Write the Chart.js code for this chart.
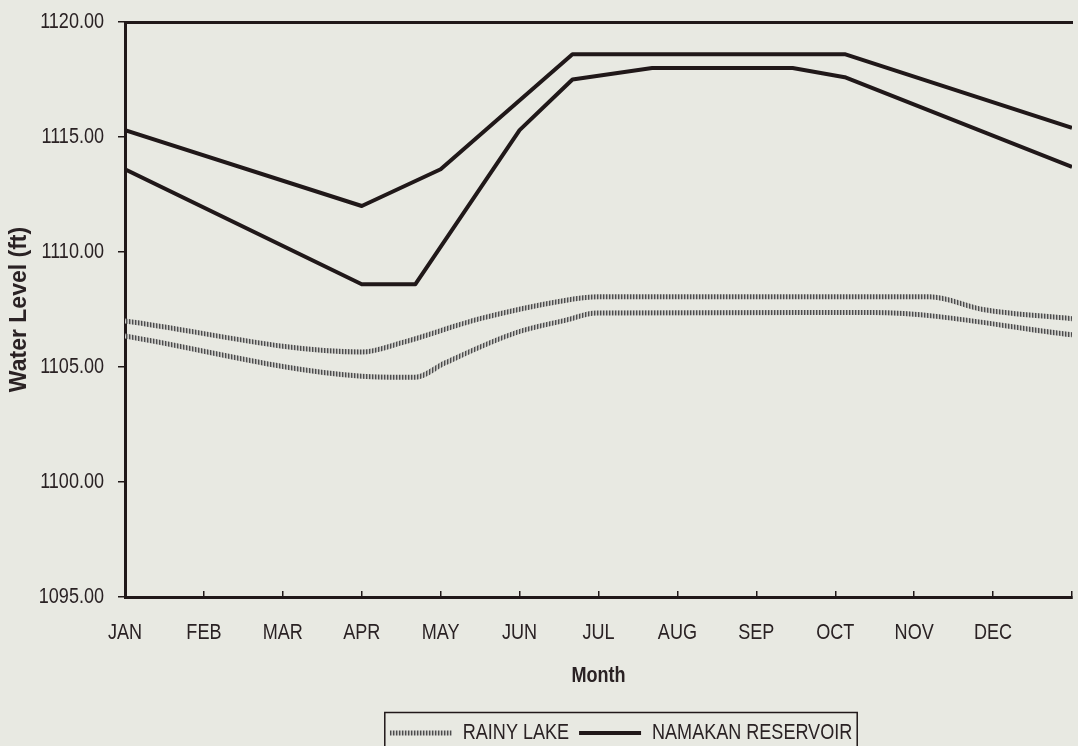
<!DOCTYPE html>
<html>
<head>
<meta charset="utf-8">
<script src="https://cdn.jsdelivr.net/npm/chart.js@4.4.1/dist/chart.umd.min.js"></script>
<style>
  html, body { margin: 0; padding: 0; background: #e8e9e2; }
  #wrap { width: 1078px; height: 746px; }
</style>
</head>
<body>
<div id="wrap"><canvas id="chart" width="1078" height="746"></canvas></div>
<script>
// month index: 0 = start of JAN, 12 = end of DEC
const months = ['JAN', 'FEB', 'MAR', 'APR', 'MAY', 'JUN', 'JUL', 'AUG', 'SEP', 'OCT', 'NOV', 'DEC'];
const yTicks = [1095, 1100, 1105, 1110, 1115, 1120];

const rainyUpperMonth = [0, 3, 3.5, 4.5, 5.5, 6, 10.2, 10.87, 12];
const rainyUpperLevel = [1107.0, 1105.65, 1106.05, 1107.1, 1107.85, 1108.05, 1108.05, 1107.5, 1107.1];

const rainyLowerMonth = [0, 3, 3.68, 4.05, 4.96, 5.6, 5.97, 9.47, 12];
const rainyLowerLevel = [1106.35, 1104.6, 1104.55, 1105.17, 1106.5, 1107.05, 1107.35, 1107.37, 1106.4];

const namakanUpperMonth = [0, 3, 4, 5.67, 9.12, 12];
const namakanUpperLevel = [1115.3, 1112.0, 1113.6, 1118.6, 1118.6, 1115.4];

const namakanLowerMonth = [0, 3, 3.68, 5.0, 5.67, 6.68, 8.46, 9.12, 12];
const namakanLowerLevel = [1113.6, 1108.6, 1108.6, 1115.3, 1117.5, 1118.0, 1118.0, 1117.6, 1113.7];

const ink = '#201819';
const textColor = '#2a2224';
const narrow = "'Liberation Sans Narrow', 'Liberation Sans', Arial, sans-serif";

Chart.defaults.font.family = narrow;
Chart.defaults.color = textColor;

const canvas = document.getElementById('chart');
const ctx = canvas.getContext('2d');

// no narrow face installed: squeeze the "narrow" text horizontally
const squeeze = 0.82;
const rawFill = ctx.fillText.bind(ctx);
const rawMeasure = ctx.measureText.bind(ctx);
ctx.fillText = function (text, x, y, maxWidth) {
  if (!this.font.includes('Narrow')) return rawFill(text, x, y, maxWidth);
  this.save();
  this.translate(x, y);
  this.scale(squeeze, 1);
  rawFill(text, 0, 0);
  this.restore();
};
ctx.measureText = function (text) {
  const m = rawMeasure(text);
  if (!this.font.includes('Narrow')) return m;
  return { width: m.width * squeeze, actualBoundingBoxAscent: m.actualBoundingBoxAscent, actualBoundingBoxDescent: m.actualBoundingBoxDescent };
};

// hatched grey stroke for the Rainy Lake lines
const pc = document.createElement('canvas');
pc.width = 3; pc.height = 3;
const pctx = pc.getContext('2d');
pctx.fillStyle = '#4c4c4c'; pctx.fillRect(0, 0, 1, 3);
pctx.fillStyle = '#9c9c9a'; pctx.fillRect(1, 0, 1, 3);
pctx.fillStyle = '#cfcfcb'; pctx.fillRect(2, 0, 1, 3);
const hatch = ctx.createPattern(pc, 'repeat');

const pts = (xs, ys) => xs.map((x, i) => ({ x: x, y: ys[i] }));

const legendBox = {
  id: 'legendBox',
  afterLayout(chart) {
    const lg = chart.legend;
    const shift = 621 - (lg.left + lg.right) / 2;
    lg.left += shift;
    lg.right += shift;
  },
  afterDraw(chart) {
    const lg = chart.legend;
    const boxes = lg.legendHitBoxes;
    if (!boxes || !boxes.length) return;
    const first = boxes[0], last = boxes[boxes.length - 1];
    const c = chart.ctx;
    c.save();
    c.strokeStyle = ink;
    c.lineWidth = 1.5;
    c.strokeRect(first.left - 5, lg.top + 0.5, last.left + last.width - first.left + 10, 60);
    c.restore();
  }
};

new Chart(canvas, {
  type: 'line',
  data: {
    datasets: [
      { label: 'RAINY LAKE', data: pts(rainyUpperMonth, rainyUpperLevel), borderColor: hatch, borderWidth: 5, cubicInterpolationMode: 'monotone' },
      { label: 'RAINY LAKE', data: pts(rainyLowerMonth, rainyLowerLevel), borderColor: hatch, borderWidth: 5, cubicInterpolationMode: 'monotone' },
      { label: 'NAMAKAN RESERVOIR', data: pts(namakanUpperMonth, namakanUpperLevel), borderColor: ink, borderWidth: 4 },
      { label: 'NAMAKAN RESERVOIR', data: pts(namakanLowerMonth, namakanLowerLevel), borderColor: ink, borderWidth: 4 }
    ]
  },
  plugins: [legendBox],
  options: {
    responsive: false,
    animation: false,
    elements: { point: { radius: 0 }, line: { tension: 0, borderJoinStyle: 'round' } },
    layout: { padding: { top: 22, left: 4, right: 6, bottom: 0 } },
    plugins: {
      tooltip: { enabled: false },
      legend: {
        position: 'bottom',
        maxHeight: 34,
        labels: {
          usePointStyle: true,
          pointStyle: 'line',
          pointStyleWidth: 62,
          padding: 10,
          color: textColor,
          font: { size: 22 },
          filter: (item, data) => data.datasets.findIndex(d => d.label === item.text) === item.datasetIndex
        }
      }
    },
    scales: {
      x: {
        type: 'linear',
        min: 0,
        max: 12,
        afterFit: s => { s.height = 115; s.paddingRight = 0; s.paddingLeft = 0; },
        border: { color: ink, width: 3 },
        grid: { drawOnChartArea: false, tickLength: -6, color: ink, lineWidth: 1.5 },
        ticks: {
          stepSize: 1,
          autoSkip: false,
          maxRotation: 0,
          padding: 29,
          font: { size: 22 },
          callback: v => months[v] ?? ''
        },
        title: { display: true, text: 'Month', font: { size: 22, weight: 'bold' }, padding: { top: 0, bottom: 23 } }
      },
      x2: {
        type: 'linear',
        position: 'top',
        min: 0,
        max: 12,
        border: { color: ink, width: 3 },
        grid: { drawOnChartArea: false, drawTicks: false },
        ticks: { display: false }
      },
      y: {
        min: 1095,
        max: 1120,
        afterBuildTicks: s => { s.ticks = yTicks.map(v => ({ value: v })); },
        afterFit: s => { s.width = 121; s.paddingTop = 0; s.paddingBottom = 0; },
        border: { color: ink, width: 3 },
        grid: { drawOnChartArea: false, tickLength: 7, color: ink, lineWidth: 1.5 },
        ticks: { padding: 14, font: { size: 22 }, callback: v => v.toFixed(2) },
        title: {
          display: true,
          text: 'Water Level (ft)',
          font: { size: 23, weight: 'bold', family: "'Liberation Sans', Arial, sans-serif" },
          padding: { top: 2, bottom: 4 }
        }
      }
    }
  }
});
</script>
</body>
</html>
